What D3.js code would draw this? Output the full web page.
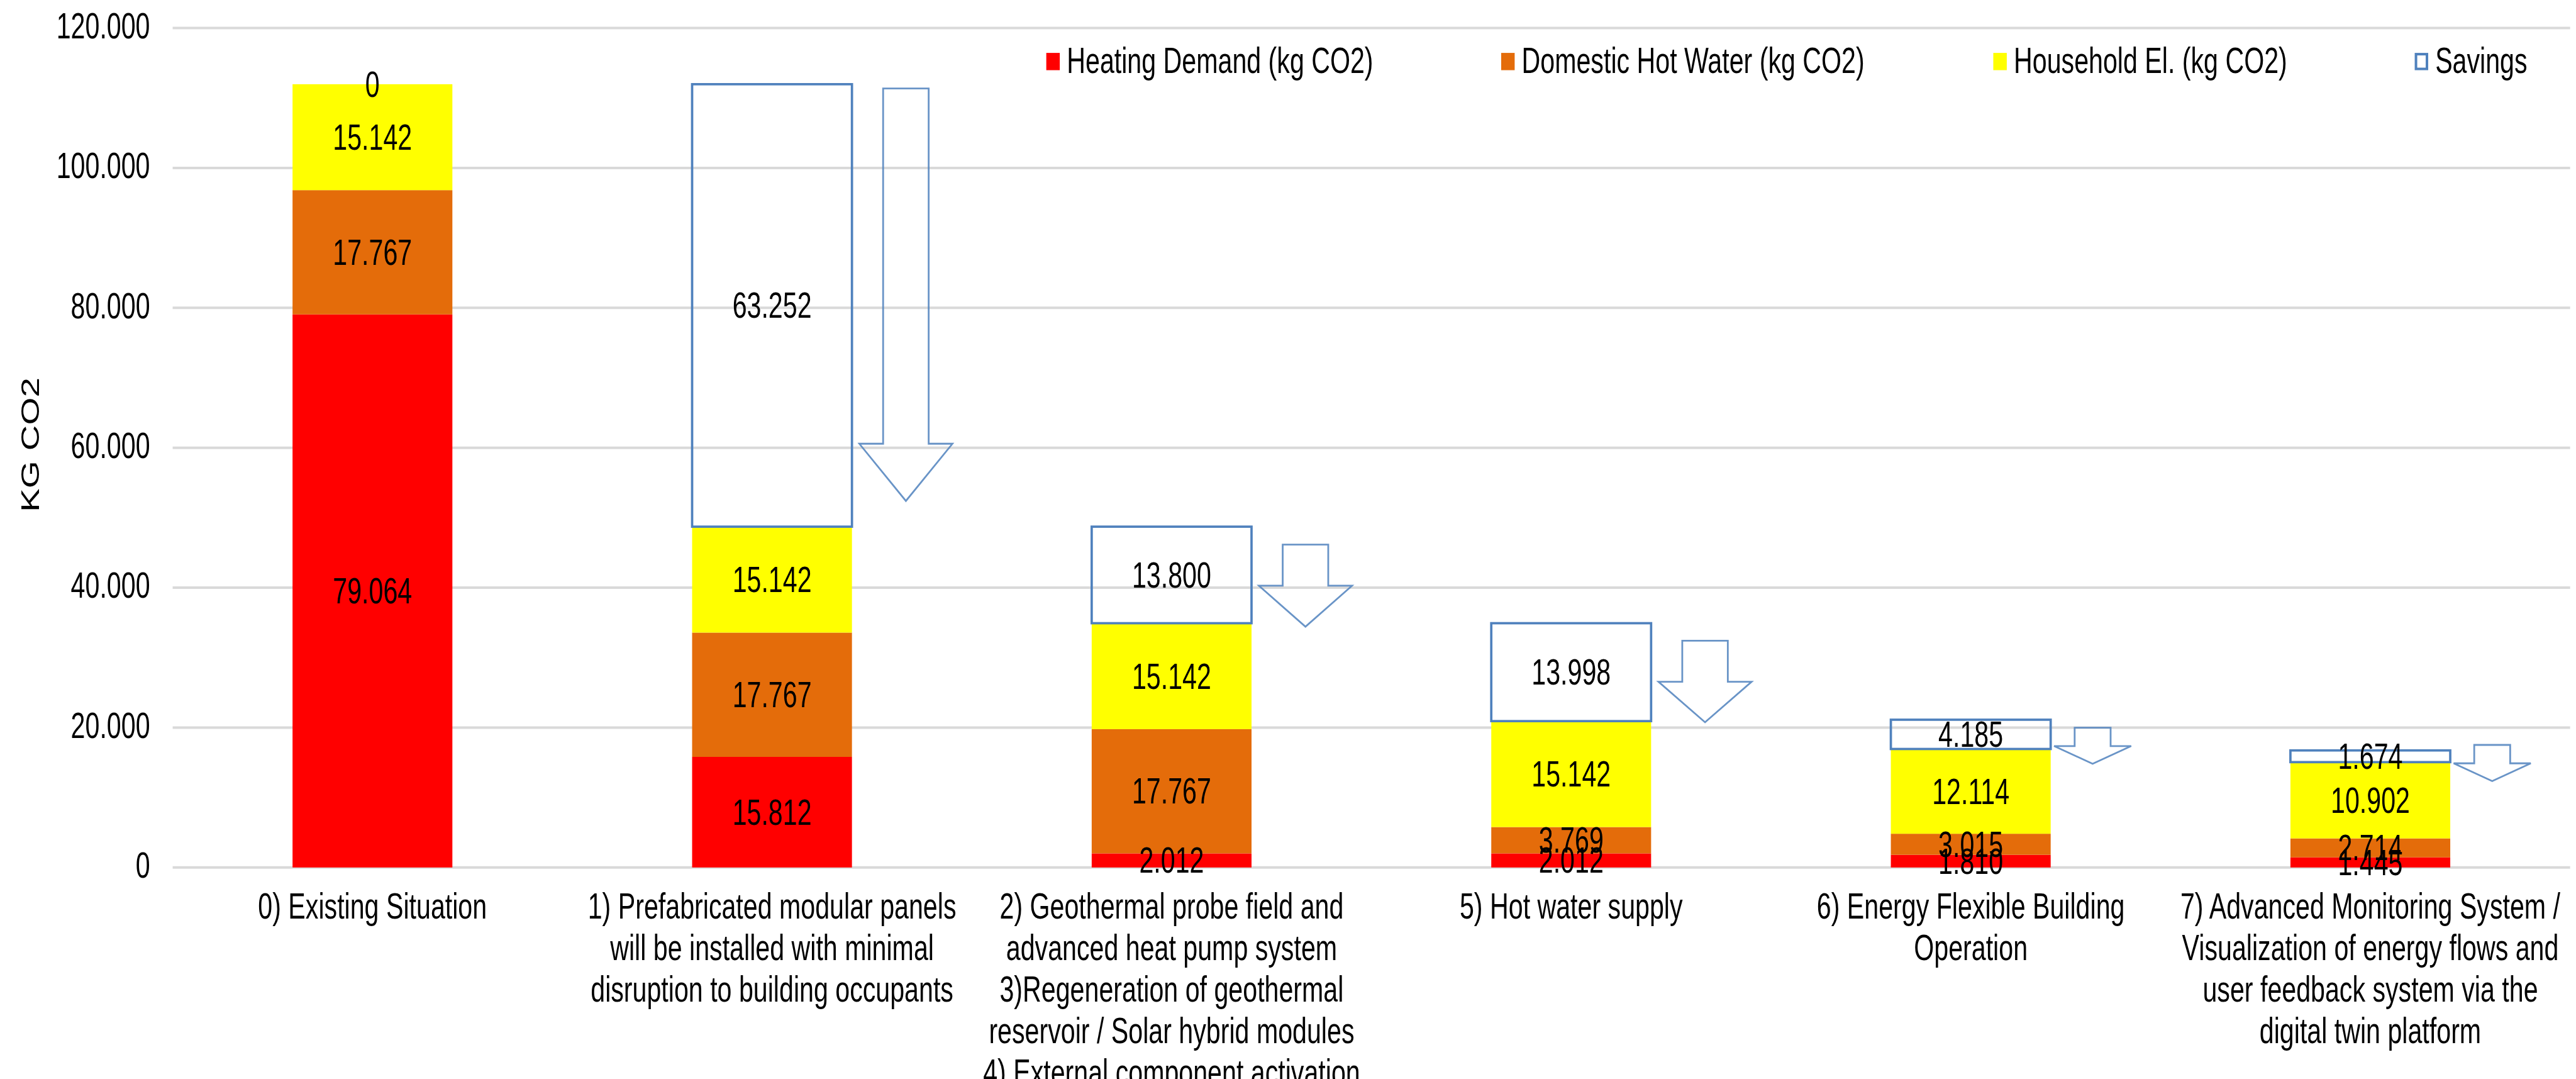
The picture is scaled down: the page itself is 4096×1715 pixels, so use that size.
<!DOCTYPE html>
<html>
<head>
<meta charset="utf-8">
<script src="https://d3js.org/d3.v7.min.js"></script>
<style>
  body { margin: 0; background: #fff; }
  text { font-family: "Liberation Sans", Arial, sans-serif; fill: #000; }
</style>
</head>
<body>
<svg width="4096" height="1715"></svg>
<script>
// ---- data ----
var categories = [
  ["0) Existing Situation"],
  ["1) Prefabricated modular panels", "will be installed with minimal", "disruption to building occupants"],
  ["2) Geothermal probe field and", "advanced heat pump system", "3)Regeneration of geothermal", "reservoir / Solar hybrid modules", "4) External component activation"],
  ["5) Hot water supply"],
  ["6) Energy Flexible Building", "Operation"],
  ["7) Advanced Monitoring System /", "Visualization of energy flows and", "user feedback system via the", "digital twin platform"]
];
var heating   = [79064, 15812, 2012, 2012, 1810, 1445];
var hotWater  = [17767, 17767, 17767, 3769, 3015, 2714];
var household = [15142, 15142, 15142, 15142, 12114, 10902];
var savings   = [0, 63252, 13800, 13998, 4185, 1674];
var yTicks = [0, 20000, 40000, 60000, 80000, 100000, 120000];
var seriesNames = ["Heating Demand (kg CO2)", "Domestic Hot Water (kg CO2)", "Household El. (kg CO2)", "Savings"];

// down arrows beside the savings boxes (kg CO2 at top of shaft, shoulder, tip)
var arrowTop  = [null, 111360, 46150, 32410, 19990, 17520];
var arrowNeck = [null, 60580, 40280, 26550, 17360, 14890];
var arrowTip  = [null, 52400, 34420, 20760, 14820, 12350];

// ---- layout ----
var S = 0.858;
var svg = d3.select("svg");
var fs = 66 * S, sx = 0.727;
var colors = ["#ff0000", "#e46c0a", "#ffff00"];
var blue = "#4f81bd";

var rows = categories.map(function(c, i) {
  return { i: i, heating: heating[i], hotWater: hotWater[i], household: household[i], savings: savings[i] };
});
var keys = ["heating", "hotWater", "household", "savings"];

var x = d3.scaleBand().domain(d3.range(categories.length))
  .range([320 * S, 4763 * S]).paddingInner(0.6).paddingOuter(0.3);
var y = d3.scaleLinear().domain([0, 120000]).range([1607 * S, 52 * S]);

var fmt = d3.formatLocale({ decimal: ",", thousands: ".", grouping: [3], currency: ["", ""] }).format(",d");

function label(g, tx, ty, str, anchor) {
  return g.append("text")
    .attr("transform", "translate(" + tx + "," + ty + ") scale(" + sx + ",1)")
    .attr("text-anchor", anchor || "middle")
    .style("font-size", fs + "px")
    .text(str);
}

// gridlines
svg.append("g").selectAll("line").data(yTicks).join("line")
  .attr("x1", x.range()[0]).attr("x2", x.range()[1])
  .attr("y1", function(d) { return y(d); }).attr("y2", function(d) { return y(d); })
  .attr("stroke", "#d9d9d9").attr("stroke-width", 4);

// y tick labels
var tg = svg.append("g");
yTicks.forEach(function(t) {
  label(tg, 278 * S, y(t) + 0.29 * fs, fmt(t), "end");
});

// y title
svg.append("text")
  .attr("transform", "translate(" + (55 * S + 0.35 * fs * sx) + "," + (824 * S) + ") scale(" + sx + ",1) rotate(-90)")
  .attr("text-anchor", "middle")
  .style("font-size", fs + "px")
  .text("KG CO2");

// stacked bars
var stack = d3.stack().keys(keys)(rows);
var bw = x.bandwidth();
stack.forEach(function(layer, k) {
  var g = svg.append("g");
  layer.forEach(function(d, i) {
    if (k < 3) {
      g.append("rect")
        .attr("x", x(i)).attr("width", bw)
        .attr("y", y(d[1])).attr("height", y(d[0]) - y(d[1]))
        .attr("fill", colors[k]);
    } else if (d[1] > d[0]) {
      g.append("rect")
        .attr("x", x(i)).attr("width", bw)
        .attr("y", y(d[1])).attr("height", y(d[0]) - y(d[1]))
        .attr("fill", "none").attr("stroke", blue).attr("stroke-width", 3.7);
    }
  });
});

// arrows
var ag = svg.append("g");
rows.forEach(function(r, i) {
  if (arrowTop[i] == null) return;
  var step = x.step();
  var big = r.savings > 10000;
  var cx = x(i) + bw / 2 + (big ? 0.335 : 0.305) * step;
  var hw = (big ? 0.233 : 0.193) * step / 2;
  var sw = (big ? 0.114 : 0.09) * step / 2;
  var t = y(arrowTop[i]), n = y(arrowNeck[i]), p = y(arrowTip[i]);
  var pts = [[cx - sw, t], [cx + sw, t], [cx + sw, n], [cx + hw, n], [cx, p], [cx - hw, n], [cx - sw, n]];
  ag.append("path")
    .attr("d", d3.line()(pts) + "Z")
    .attr("fill", "none").attr("stroke", blue).attr("stroke-width", 2.8)
    .attr("stroke-opacity", 0.85).attr("stroke-linejoin", "miter");
});

// value labels
var lg = svg.append("g");
stack.forEach(function(layer, k) {
  layer.forEach(function(d, i) {
    var v = d[1] - d[0];
    label(lg, x(i) + bw / 2, y((d[0] + d[1]) / 2) + 0.35 * fs, fmt(v));
  });
});

// category labels
var cg = svg.append("g");
categories.forEach(function(lines, i) {
  lines.forEach(function(s, j) {
    label(cg, x(i) + bw / 2, 1702 * S + j * 76.8 * S, s);
  });
});

// legend
var legX = [1939, 2782, 3694, 4475];
var leg = svg.append("g");
seriesNames.forEach(function(name, k) {
  var lx = legX[k] * S;
  if (k < 3) {
    leg.append("rect").attr("x", lx).attr("y", 98 * S).attr("width", 25 * S).attr("height", 32 * S)
      .attr("fill", colors[k]);
  } else {
    leg.append("rect").attr("x", lx + 2).attr("y", 98 * S + 2).attr("width", 25 * S - 4).attr("height", 32 * S - 4)
      .attr("fill", "#fff").attr("stroke", blue).attr("stroke-width", 4);
  }
  label(leg, lx + 38 * S, 135 * S, name, "start");
});
</script>
</body>
</html>
